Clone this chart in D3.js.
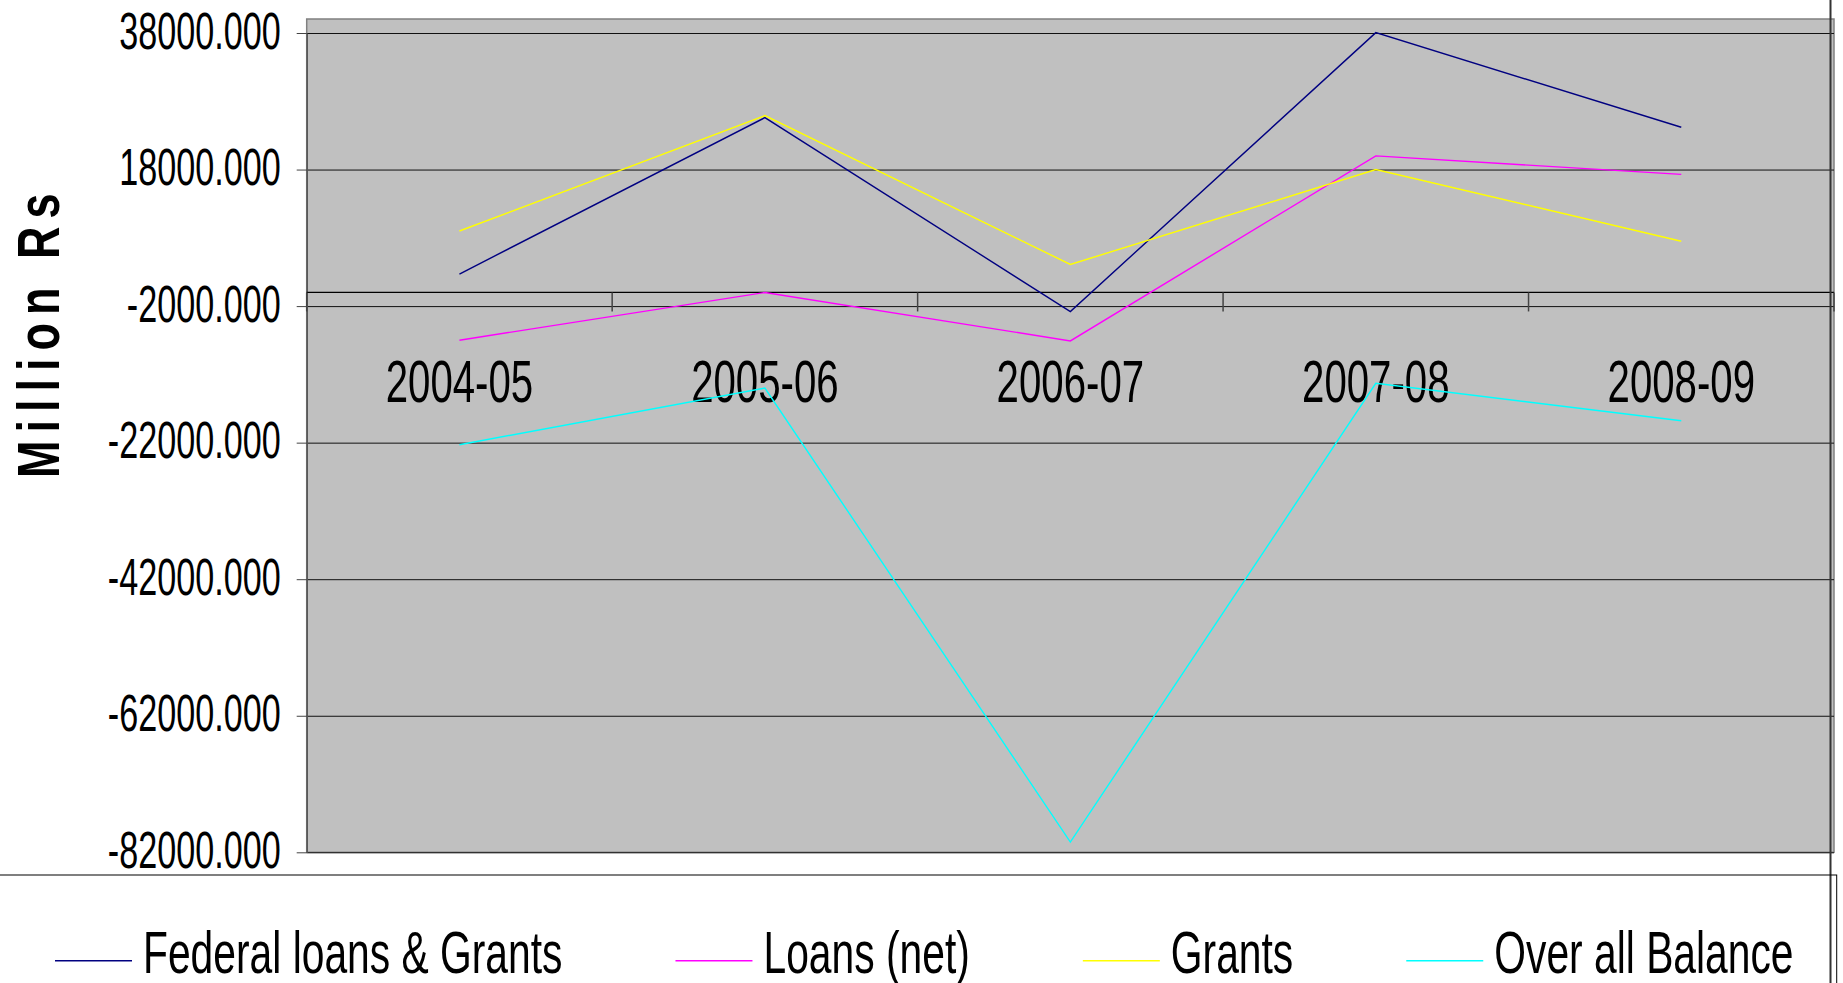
<!DOCTYPE html>
<html lang="en">
  <head>
    <meta charset="utf-8">
    <title>Million Rs</title>
    <script src="https://cdn.jsdelivr.net/npm/d3@7"></script>
    <style>
    body{margin:0;background:#fff;}
    svg{display:block;}
    text{font-family:'Liberation Sans',Arial,sans-serif;fill:#000;}
    </style>
  </head>
  <body>
    <svg></svg>
    <script>
      // values
      var categories=["2004-05","2005-06","2006-07","2007-08","2008-09"];
      var federal=[2700,25600,-2800,38050,24200];
      var loansNet=[-7000,0,-7100,20000,17300];
      var grants=[9000,25900,4100,18000,7500];
      var overall=[-22300,-14000,-80500,-13300,-18800];
      var seriesNames=["Federal loans & Grants","Loans (net)","Grants","Over all Balance"];
      var seriesColors=["#000080","#FF00FF","#FFFF00","#00FFFF"];
      var yTicks=[38000,18000,-2000,-22000,-42000,-62000,-82000];
      var series=[federal,loansNet,grants,overall];

      var width=1843,height=983;
      var plotL=306.7,plotR=1834,plotT=19,plotB=852.3;
      var sx=0.67;

      var svg=d3.select("svg").attr("width",width).attr("height",height);

      var yscale=d3.scaleLinear().domain([-82000,38000]).range([plotB,33]);
      var xscale=d3.scaleBand().domain(categories).range([plotL,plotR]);
      var bw=xscale.bandwidth();

      svg.append("rect")
         .attr("x",plotL).attr("y",plotT)
         .attr("width",plotR-plotL).attr("height",plotB-plotT)
         .attr("fill","#C0C0C0").attr("stroke","#808080").attr("stroke-width",1.5);

      // gridlines
      var grid=svg.append("g")
         .attr("transform","translate("+plotL+",0)")
         .call(d3.axisLeft(yscale).tickValues(yTicks).tickSize(-(plotR-plotL)).tickFormat(""));
      grid.select(".domain").remove();
      grid.selectAll("line").attr("stroke","#111").attr("stroke-width",1);

      // y axis
      var yAxis=svg.append("g")
         .attr("transform","translate("+plotL+",0)")
         .call(d3.axisLeft(yscale).tickValues(yTicks).tickSize(10).tickSizeOuter(0)
               .tickFormat(function(d){return d.toFixed(3);}));
      yAxis.attr("font-family",null).attr("font-size",null);
      yAxis.select(".domain").attr("stroke","#555").attr("stroke-width",1.5);
      yAxis.selectAll(".tick line").attr("stroke","#444");
      yAxis.selectAll("text")
           .attr("x",0).attr("dy",null)
           .attr("text-anchor","end")
           .attr("transform","translate(-26,15) scale("+sx+",1)")
           .style("font-size","51px");

      // category axis crossing at zero
      var y0=yscale(0);
      svg.append("line")
         .attr("x1",plotL).attr("x2",plotR).attr("y1",y0).attr("y2",y0)
         .attr("stroke","#000").attr("stroke-width",1.2);
      var bounds=categories.map(function(c){return xscale(c);}).concat([plotR]);
      svg.selectAll(".xtick")
         .data(bounds)
         .enter()
         .append("line")
         .attr("class","xtick")
         .attr("x1",function(d){return d;}).attr("x2",function(d){return d;})
         .attr("y1",y0).attr("y2",y0+19)
         .attr("stroke","#444").attr("stroke-width",1.5);

      svg.selectAll(".xlabel")
         .data(categories)
         .enter()
         .append("text")
         .attr("class","xlabel")
         .attr("text-anchor","middle")
         .attr("transform",function(d){
           return "translate("+(xscale(d)+bw/2)+",401.7) scale("+sx+",1)";})
         .style("font-size","60px")
         .text(function(d){return d;});

      // series lines
      var line=d3.line()
                 .x(function(d,i){return xscale(categories[i])+bw/2;})
                 .y(function(d){return yscale(d);});
      svg.selectAll(".series")
         .data(series)
         .enter()
         .append("path")
         .attr("class","series")
         .attr("d",line)
         .attr("fill","none")
         .attr("stroke",function(d,i){return seriesColors[i];})
         .attr("stroke-width",1.4);

      // chart area edge on the right
      svg.append("line")
         .attr("x1",1830.5).attr("x2",1830.5).attr("y1",0).attr("y2",height)
         .attr("stroke","#333").attr("stroke-width",2);

      // y title
      svg.append("text")
         .attr("transform","translate(58.8,478) rotate(-90) scale(1,1.32)")
         .attr("text-anchor","start")
         .style("font-size","45px").style("font-weight","bold")
         .style("letter-spacing","8px")
         .text("Million Rs");

      // legend
      svg.append("rect")
         .attr("x",-2).attr("y",875).attr("width",1838.7).attr("height",200)
         .attr("fill","none").attr("stroke","#000").attr("stroke-width",1);
      var lx=55;
      var lsx=0.68;
      seriesNames.forEach(function(name,i){
        svg.append("line")
           .attr("x1",lx).attr("x2",lx+77).attr("y1",960.7).attr("y2",960.7)
           .attr("stroke",seriesColors[i]).attr("stroke-width",1.4);
        var t=svg.append("text")
           .attr("transform","translate("+(lx+88)+",973.3) scale("+lsx+",1)")
           .style("font-size","60px")
           .text(name);
        lx=lx+88+t.node().getComputedTextLength()*lsx+113;
      });
    </script>
  </body>
</html>
